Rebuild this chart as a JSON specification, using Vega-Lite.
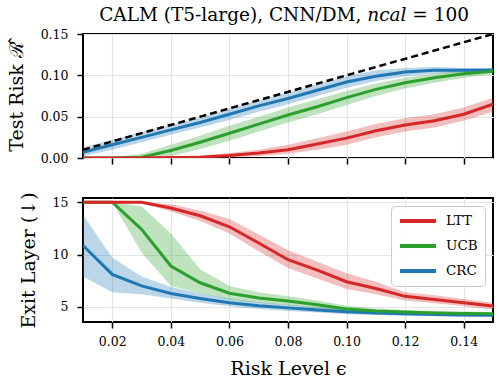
{
  "$schema": "https://vega.github.io/schema/vega-lite/v6.json",
  "background": "white",
  "padding": {"left": 6, "top": 5, "right": 2, "bottom": 1},
  "title": {"text": "CALM (T5-large), CNN/DM, 𝑛𝑐𝑎𝑙 = 100", "font": "DejaVu Serif", "fontSize": 18.5, "fontWeight": "normal", "color": "black", "anchor": "middle", "offset": 3, "dx": 34},
  "datasets": {
    "d": [
      {"eps": 0.01, "method": "CRC", "risk": 0.007, "risk_lo": 0.002, "risk_hi": 0.013, "layer": 10.86, "layer_lo": 7.9, "layer_hi": 13.8},
      {"eps": 0.02, "method": "CRC", "risk": 0.016, "risk_lo": 0.010, "risk_hi": 0.022, "layer": 8.1, "layer_lo": 6.4, "layer_hi": 9.7},
      {"eps": 0.03, "method": "CRC", "risk": 0.025, "risk_lo": 0.019, "risk_hi": 0.031, "layer": 7.0, "layer_lo": 6.2, "layer_hi": 7.9},
      {"eps": 0.04, "method": "CRC", "risk": 0.034, "risk_lo": 0.028, "risk_hi": 0.040, "layer": 6.27, "layer_lo": 5.8, "layer_hi": 6.9},
      {"eps": 0.05, "method": "CRC", "risk": 0.043, "risk_lo": 0.037, "risk_hi": 0.049, "layer": 5.8, "layer_lo": 5.4, "layer_hi": 6.3},
      {"eps": 0.06, "method": "CRC", "risk": 0.053, "risk_lo": 0.046, "risk_hi": 0.060, "layer": 5.4, "layer_lo": 5.05, "layer_hi": 5.8},
      {"eps": 0.07, "method": "CRC", "risk": 0.063, "risk_lo": 0.056, "risk_hi": 0.070, "layer": 5.1, "layer_lo": 4.8, "layer_hi": 5.45},
      {"eps": 0.08, "method": "CRC", "risk": 0.072, "risk_lo": 0.065, "risk_hi": 0.079, "layer": 4.9, "layer_lo": 4.6, "layer_hi": 5.2},
      {"eps": 0.09, "method": "CRC", "risk": 0.082, "risk_lo": 0.075, "risk_hi": 0.089, "layer": 4.7, "layer_lo": 4.45, "layer_hi": 4.95},
      {"eps": 0.10, "method": "CRC", "risk": 0.092, "risk_lo": 0.085, "risk_hi": 0.099, "layer": 4.53, "layer_lo": 4.3, "layer_hi": 4.75},
      {"eps": 0.11, "method": "CRC", "risk": 0.099, "risk_lo": 0.093, "risk_hi": 0.106, "layer": 4.42, "layer_lo": 4.22, "layer_hi": 4.62},
      {"eps": 0.12, "method": "CRC", "risk": 0.104, "risk_lo": 0.099, "risk_hi": 0.109, "layer": 4.33, "layer_lo": 4.15, "layer_hi": 4.5},
      {"eps": 0.13, "method": "CRC", "risk": 0.106, "risk_lo": 0.102, "risk_hi": 0.110, "layer": 4.27, "layer_lo": 4.1, "layer_hi": 4.45},
      {"eps": 0.14, "method": "CRC", "risk": 0.106, "risk_lo": 0.103, "risk_hi": 0.109, "layer": 4.22, "layer_lo": 4.05, "layer_hi": 4.4},
      {"eps": 0.15, "method": "CRC", "risk": 0.106, "risk_lo": 0.103, "risk_hi": 0.109, "layer": 4.2, "layer_lo": 4.05, "layer_hi": 4.35},

      {"eps": 0.01, "method": "UCB", "risk": 0.0, "risk_lo": 0.0, "risk_hi": 0.0, "layer": 15, "layer_lo": 15, "layer_hi": 15},
      {"eps": 0.02, "method": "UCB", "risk": 0.0, "risk_lo": 0.0, "risk_hi": 0.0005, "layer": 15, "layer_lo": 15, "layer_hi": 15},
      {"eps": 0.03, "method": "UCB", "risk": 0.001, "risk_lo": 0.0, "risk_hi": 0.005, "layer": 12.4, "layer_lo": 10.2, "layer_hi": 14.6},
      {"eps": 0.04, "method": "UCB", "risk": 0.009, "risk_lo": 0.002, "risk_hi": 0.016, "layer": 8.9, "layer_lo": 7.0, "layer_hi": 12.0},
      {"eps": 0.05, "method": "UCB", "risk": 0.019, "risk_lo": 0.011, "risk_hi": 0.027, "layer": 7.3, "layer_lo": 6.3, "layer_hi": 8.6},
      {"eps": 0.06, "method": "UCB", "risk": 0.030, "risk_lo": 0.021, "risk_hi": 0.039, "layer": 6.3, "layer_lo": 5.7, "layer_hi": 7.0},
      {"eps": 0.07, "method": "UCB", "risk": 0.041, "risk_lo": 0.032, "risk_hi": 0.050, "layer": 5.85, "layer_lo": 5.4, "layer_hi": 6.4},
      {"eps": 0.08, "method": "UCB", "risk": 0.052, "risk_lo": 0.043, "risk_hi": 0.061, "layer": 5.55, "layer_lo": 5.15, "layer_hi": 6.0},
      {"eps": 0.09, "method": "UCB", "risk": 0.062, "risk_lo": 0.053, "risk_hi": 0.071, "layer": 5.2, "layer_lo": 4.85, "layer_hi": 5.6},
      {"eps": 0.10, "method": "UCB", "risk": 0.073, "risk_lo": 0.064, "risk_hi": 0.081, "layer": 4.8, "layer_lo": 4.55, "layer_hi": 5.1},
      {"eps": 0.11, "method": "UCB", "risk": 0.083, "risk_lo": 0.075, "risk_hi": 0.090, "layer": 4.6, "layer_lo": 4.4, "layer_hi": 4.85},
      {"eps": 0.12, "method": "UCB", "risk": 0.091, "risk_lo": 0.084, "risk_hi": 0.097, "layer": 4.5, "layer_lo": 4.3, "layer_hi": 4.7},
      {"eps": 0.13, "method": "UCB", "risk": 0.097, "risk_lo": 0.091, "risk_hi": 0.102, "layer": 4.42, "layer_lo": 4.25, "layer_hi": 4.6},
      {"eps": 0.14, "method": "UCB", "risk": 0.102, "risk_lo": 0.097, "risk_hi": 0.106, "layer": 4.37, "layer_lo": 4.2, "layer_hi": 4.55},
      {"eps": 0.15, "method": "UCB", "risk": 0.105, "risk_lo": 0.101, "risk_hi": 0.109, "layer": 4.33, "layer_lo": 4.18, "layer_hi": 4.5},

      {"eps": 0.01, "method": "LTT", "risk": 0.0, "risk_lo": 0.0, "risk_hi": 0.0, "layer": 15, "layer_lo": 15, "layer_hi": 15},
      {"eps": 0.02, "method": "LTT", "risk": 0.0, "risk_lo": 0.0, "risk_hi": 0.0, "layer": 15, "layer_lo": 15, "layer_hi": 15},
      {"eps": 0.03, "method": "LTT", "risk": 0.0, "risk_lo": 0.0, "risk_hi": 0.0005, "layer": 15, "layer_lo": 14.9, "layer_hi": 15},
      {"eps": 0.04, "method": "LTT", "risk": 0.0005, "risk_lo": 0.0, "risk_hi": 0.002, "layer": 14.45, "layer_lo": 14.1, "layer_hi": 14.8},
      {"eps": 0.05, "method": "LTT", "risk": 0.001, "risk_lo": 0.0, "risk_hi": 0.003, "layer": 13.7, "layer_lo": 13.2, "layer_hi": 14.2},
      {"eps": 0.06, "method": "LTT", "risk": 0.003, "risk_lo": 0.001, "risk_hi": 0.006, "layer": 12.65, "layer_lo": 12.0, "layer_hi": 13.4},
      {"eps": 0.07, "method": "LTT", "risk": 0.006, "risk_lo": 0.002, "risk_hi": 0.010, "layer": 11.1, "layer_lo": 10.3, "layer_hi": 11.9},
      {"eps": 0.08, "method": "LTT", "risk": 0.010, "risk_lo": 0.005, "risk_hi": 0.016, "layer": 9.5, "layer_lo": 8.7, "layer_hi": 10.4},
      {"eps": 0.09, "method": "LTT", "risk": 0.017, "risk_lo": 0.010, "risk_hi": 0.024, "layer": 8.5, "layer_lo": 7.7, "layer_hi": 9.3},
      {"eps": 0.10, "method": "LTT", "risk": 0.024, "risk_lo": 0.016, "risk_hi": 0.032, "layer": 7.4, "layer_lo": 6.7, "layer_hi": 8.2},
      {"eps": 0.11, "method": "LTT", "risk": 0.033, "risk_lo": 0.025, "risk_hi": 0.041, "layer": 6.75, "layer_lo": 6.2, "layer_hi": 7.4},
      {"eps": 0.12, "method": "LTT", "risk": 0.040, "risk_lo": 0.032, "risk_hi": 0.048, "layer": 6.0, "layer_lo": 5.6, "layer_hi": 6.4},
      {"eps": 0.13, "method": "LTT", "risk": 0.045, "risk_lo": 0.037, "risk_hi": 0.053, "layer": 5.7, "layer_lo": 5.35, "layer_hi": 6.1},
      {"eps": 0.14, "method": "LTT", "risk": 0.053, "risk_lo": 0.045, "risk_hi": 0.061, "layer": 5.4, "layer_lo": 5.05, "layer_hi": 5.75},
      {"eps": 0.15, "method": "LTT", "risk": 0.065, "risk_lo": 0.056, "risk_hi": 0.073, "layer": 5.07, "layer_lo": 4.75, "layer_hi": 5.4}
    ],
    "diag": [
      {"eps": 0.01, "risk": 0.01},
      {"eps": 0.15, "risk": 0.15}
    ]
  },
  "config": {
    "font": "DejaVu Serif",
    "view": {"stroke": "black", "strokeWidth": 2},
    "axis": {
      "labelFont": "DejaVu Serif", "labelFontSize": 12.5, "labelColor": "black",
      "titleFont": "DejaVu Serif", "titleFontSize": 19, "titleFontWeight": "normal", "titleColor": "black",
      "domain": false, "tickColor": "black", "tickSize": 6, "tickWidth": 1.5,
      "gridColor": "#e4e4e4", "gridWidth": 1.2
    },
    "axisX": {"labelPadding": 7, "titlePadding": 12},
    "axisY": {"labelPadding": 9, "titlePadding": 14},
    "legend": {"labelFont": "DejaVu Serif", "labelFontSize": 13.5, "labelColor": "black"}
  },
  "spacing": 24,
  "resolve": {"legend": {"color": "independent"}},
  "vconcat": [
    {
      "width": 410, "height": 124,
      "layer": [
        {
          "data": {"name": "d"},
          "mark": {"type": "area", "fillOpacity": 0.3, "clip": true},
          "encoding": {
            "x": {"field": "eps", "type": "quantitative", "scale": {"domain": [0.01, 0.15], "nice": false}, "axis": {"values": [0.02, 0.04, 0.06, 0.08, 0.10, 0.12, 0.14], "labels": false, "ticks": true, "title": null}},
            "y": {"field": "risk_lo", "type": "quantitative", "scale": {"domain": [0, 0.15], "nice": false}, "axis": {"values": [0, 0.05, 0.10, 0.15], "format": ".2f", "title": "Test Risk ℛ̂"}},
            "y2": {"field": "risk_hi"},
            "color": {"field": "method", "type": "nominal", "scale": {"domain": ["LTT", "UCB", "CRC"], "range": ["#d62728", "#2ca02c", "#1f77b4"]}, "legend": null}
          }
        },
        {
          "data": {"name": "d"},
          "mark": {"type": "line", "strokeWidth": 3, "clip": true},
          "encoding": {
            "x": {"field": "eps", "type": "quantitative"},
            "y": {"field": "risk", "type": "quantitative"},
            "color": {"field": "method", "type": "nominal", "legend": null}
          }
        },
        {
          "data": {"name": "diag"},
          "mark": {"type": "line", "color": "black", "strokeWidth": 2.5, "strokeDash": [7, 4], "clip": true},
          "encoding": {
            "x": {"field": "eps", "type": "quantitative"},
            "y": {"field": "risk", "type": "quantitative"}
          }
        }
      ]
    },
    {
      "width": 410, "height": 124,
      "layer": [
        {
          "data": {"name": "d"},
          "mark": {"type": "area", "fillOpacity": 0.3, "clip": true},
          "encoding": {
            "x": {"field": "eps", "type": "quantitative", "scale": {"domain": [0.01, 0.15], "nice": false}, "axis": {"values": [0.02, 0.04, 0.06, 0.08, 0.10, 0.12, 0.14], "format": ".2f", "title": "Risk Level ϵ"}},
            "y": {"field": "layer_lo", "type": "quantitative", "scale": {"domain": [3.55, 15.4], "nice": false, "zero": false}, "axis": {"values": [5, 10, 15], "title": "Exit Layer (↓)"}},
            "y2": {"field": "layer_hi"},
            "color": {"field": "method", "type": "nominal"}
          }
        },
        {
          "data": {"name": "d"},
          "mark": {"type": "line", "strokeWidth": 3, "clip": true},
          "encoding": {
            "x": {"field": "eps", "type": "quantitative"},
            "y": {"field": "layer", "type": "quantitative"},
            "color": {"field": "method", "type": "nominal", "legend": {"title": null, "orient": "top-right", "offset": 8, "symbolType": "M-1,0H5", "symbolStrokeWidth": 4, "symbolSize": 144, "symbolOpacity": 1, "rowPadding": 9, "labelOffset": 32, "padding": 7, "strokeColor": "#cccccc", "fillColor": "rgba(255,255,255,0.85)", "cornerRadius": 4}}
          }
        }
      ]
    }
  ]
}
